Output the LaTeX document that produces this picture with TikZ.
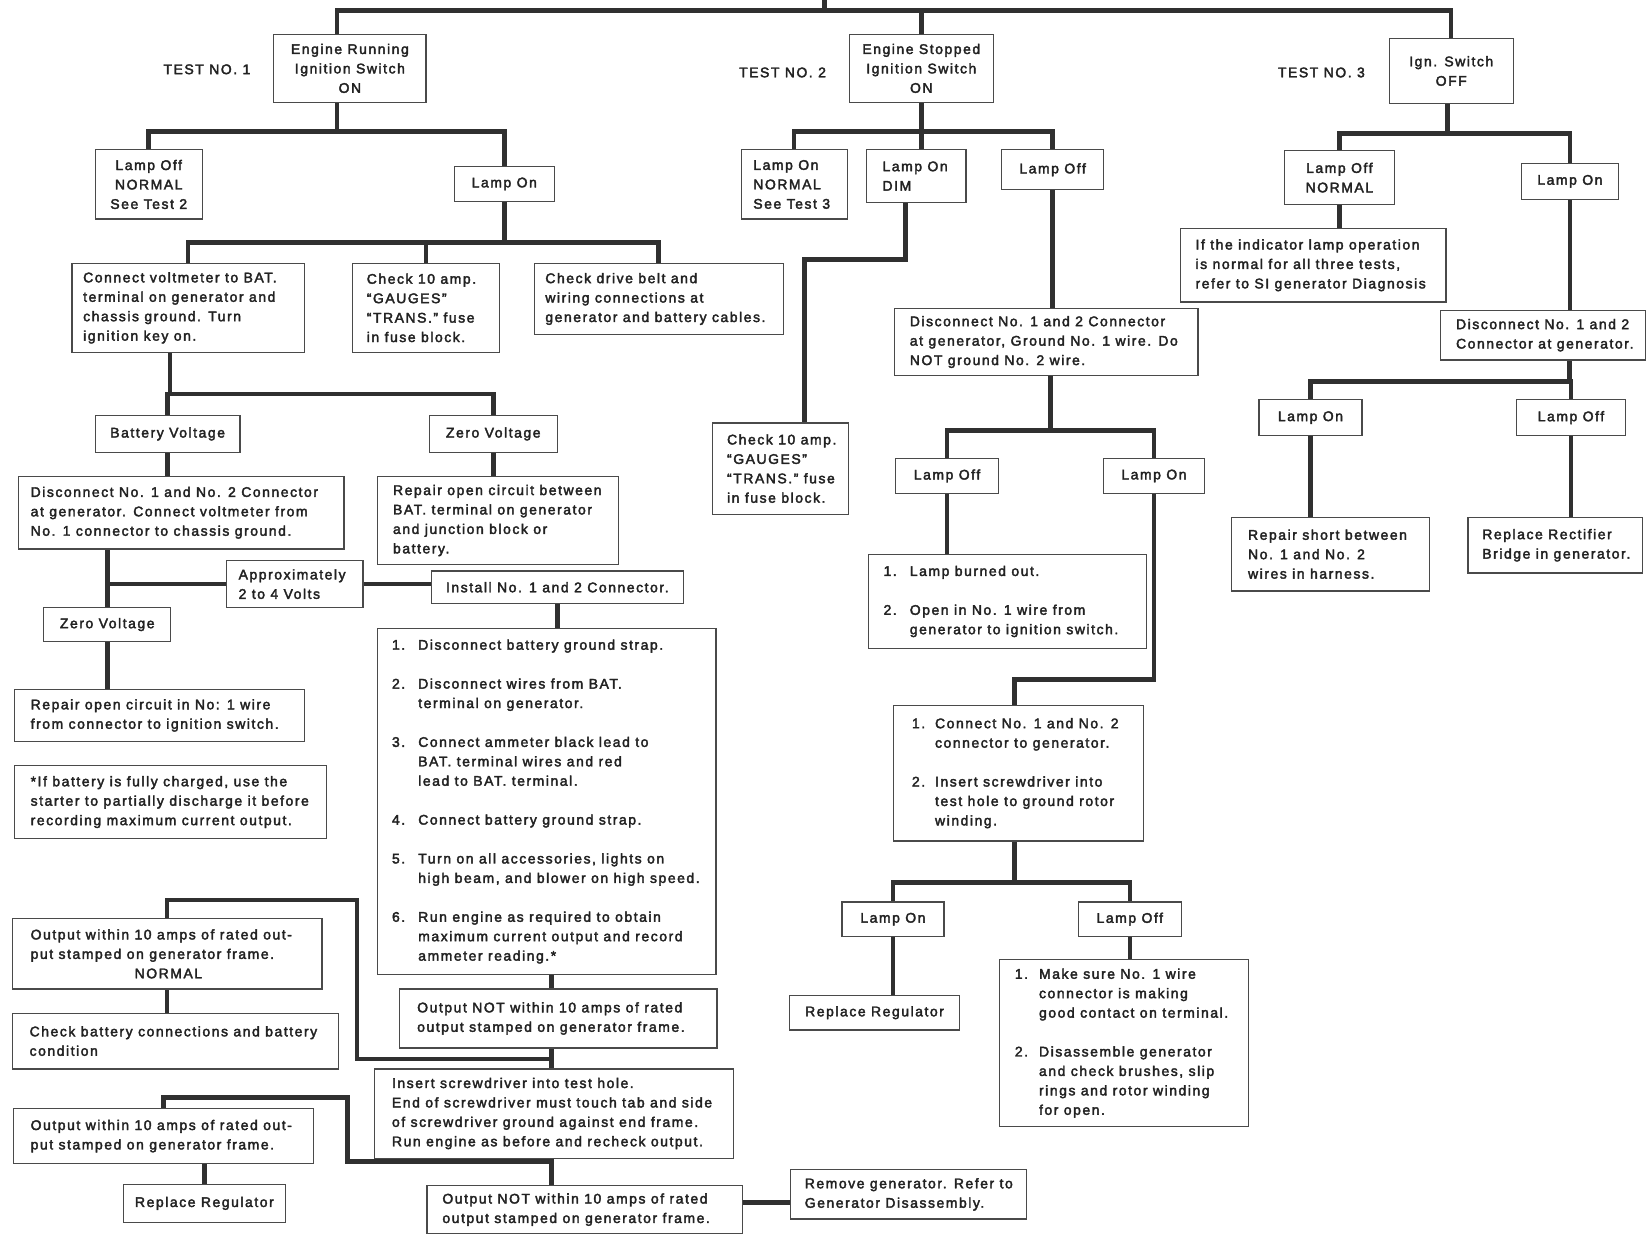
\documentclass[tikz,border=0pt]{standalone}
\usepackage{fontspec}
\setmainfont{Liberation Sans}[LetterSpace=11,FakeBold=2.6]
\pgfdeclarelayer{back}
\pgfdeclarelayer{bg}
\pgfsetlayers{back,bg,main}
\definecolor{ink}{HTML}{222222}
\definecolor{wire}{HTML}{303030}
\definecolor{edgec}{HTML}{4A4A4A}
\newcommand\fs{\fontsize{13.3}{18.5}\selectfont}
\newcommand\numi[2]{\makebox[#1pt][l]{#2}}
\newcommand\ind[1]{\hspace*{#1pt}}
\tikzset{
 box/.style={draw=edgec, line width=1.2pt, fill=white, inner sep=0pt, font=\fs, text=ink, align=center},
 txt/.style={inner sep=0pt, font=\fs, text=ink, align=left},
 conn/.style={draw=wire, line width=4.3pt, line cap=rect},
}
\newcommand\bx[6]{\node[box, minimum width={#4-#2}, minimum height={#5-#3}, anchor=north west] (#1) at (#2,#3) {#6};}
\newcommand\lbx[7]{\node[box, minimum width={#4-#2}, minimum height={#5-#3}, anchor=north west] (#1) at (#2,#3) {};
 \node[txt, anchor=west] (#1t) at ([xshift=#6pt]#1.west) {#7};}
\begin{document}
\begin{tikzpicture}[x=1pt,y=-1pt]
\useasboundingbox (0,0) rectangle (1568,1176);
\begin{pgfonlayer}{back}
\fill[white] (0,0) rectangle (1568,1176);
\end{pgfonlayer}
% ---------- labels
\node[txt] (l1) at (197,66) {TEST NO. 1};
\node[txt] (l2) at (745,69) {TEST NO. 2};
\node[txt] (l3) at (1258,69) {TEST NO. 3};
% ---------- tests
\bx{t1}{260}{32}{405}{97}{Engine Running\\Ignition Switch\\ON}
\bx{t2}{808}{32}{945}{97}{Engine Stopped\\Ignition Switch\\ON}
\bx{t3}{1322}{36}{1440}{98}{Ign. Switch\\OFF}
% ---------- test 1
\bx{a1}{90}{142}{192}{208}{Lamp Off\\NORMAL\\See Test 2}
\bx{a2}{432}{158}{527}{191}{Lamp On}
\lbx{b1}{68}{250}{289}{335}{11}{Connect voltmeter to BAT.\\terminal on generator and\\chassis ground. Turn\\ignition key on.}
\lbx{b2}{335}{250}{475}{335}{14}{Check 10 amp.\\“GAUGES”\\“TRANS.” fuse\\in fuse block.}
\lbx{b3}{508}{250}{745}{318}{11}{Check drive belt and\\wiring connections at\\generator and battery cables.}
\bx{c1}{90}{395}{228}{430}{Battery Voltage}
\bx{c2}{408}{395}{530}{430}{Zero Voltage}
\lbx{d1}{17}{453}{327}{522}{12}{Disconnect No. 1 and No. 2 Connector\\at generator. Connect voltmeter from\\No. 1 connector to chassis ground.}
\lbx{d2}{359}{453}{588}{537}{15}{Repair open circuit between\\BAT. terminal on generator\\and junction block or\\battery.}
\lbx{ap}{215}{533}{345}{578}{12}{Approximately\\2 to 4 Volts}
\bx{in}{410}{543}{650}{574}{Install No. 1 and 2 Connector.}
\bx{e1}{41}{578}{162}{610}{Zero Voltage}
\lbx{e2}{13}{656}{289}{705}{16}{Repair open circuit in No: 1 wire\\from connector to ignition switch.}
\lbx{note}{13}{728}{310}{798}{16}{*If battery is fully charged, use the\\starter to partially discharge it before\\recording maximum current output.}
\lbx{li}{359}{598}{681}{927}{14}{\numi{25}{1.}Disconnect battery ground strap.\\[18.5pt]
\numi{25}{2.}Disconnect wires from BAT.\\\ind{25}terminal on generator.\\[18.5pt]
\numi{25}{3.}Connect ammeter black lead to\\\ind{25}BAT. terminal wires and red\\\ind{25}lead to BAT. terminal.\\[18.5pt]
\numi{25}{4.}Connect battery ground strap.\\[18.5pt]
\numi{25}{5.}Turn on all accessories, lights on\\\ind{25}high beam, and blower on high speed.\\[18.5pt]
\numi{25}{6.}Run engine as required to obtain\\\ind{25}maximum current output and record\\\ind{25}ammeter reading.*}
\lbx{o1}{380}{941}{682}{997}{17}{Output NOT within 10 amps of rated\\output stamped on generator frame.}
\lbx{n1}{11}{874}{306}{941}{18}{Output within 10 amps of rated out-\\put stamped on generator frame.\\\ind{99}NORMAL}
\lbx{n2}{11}{964}{322}{1017}{17}{Check battery connections and battery\\condition}
\lbx{ins}{356}{1017}{698}{1102}{17}{Insert screwdriver into test hole.\\End of screwdriver must touch tab and side\\of screwdriver ground against end frame.\\Run engine as before and recheck output.}
\lbx{p1}{12}{1055}{298}{1107}{17}{Output within 10 amps of rated out-\\put stamped on generator frame.}
\bx{p2}{117}{1127}{271}{1163}{Replace Regulator}
\lbx{o2}{406}{1128}{706}{1174}{15}{Output NOT within 10 amps of rated\\output stamped on generator frame.}
\lbx{rg}{752}{1113}{977}{1160}{14}{Remove generator. Refer to\\Generator Disassembly.}
% ---------- test 2
\lbx{f1}{705}{142}{806}{208}{12}{Lamp On\\NORMAL\\See Test 3}
\lbx{f2}{824}{142}{919}{192}{16}{Lamp On\\DIM}
\bx{f3}{953}{142}{1050}{180}{Lamp Off}
\lbx{g1}{678}{402}{807}{489}{14}{Check 10 amp.\\“GAUGES”\\“TRANS.” fuse\\in fuse block.}
\lbx{g2}{851}{293}{1140}{357}{15}{Disconnect No. 1 and 2 Connector\\at generator, Ground No. 1 wire. Do\\NOT ground No. 2 wire.}
\bx{h1}{852}{436}{950}{469}{Lamp Off}
\bx{h2}{1050}{436}{1146}{469}{Lamp On}
\lbx{h3}{826}{527}{1091}{617}{15}{\numi{25}{1.}Lamp burned out.\\[18.5pt]
\numi{25}{2.}Open in No. 1 wire from\\\ind{25}generator to ignition switch.}
\lbx{h4}{850}{671}{1088}{800}{18}{\numi{22}{1.}Connect No. 1 and No. 2\\\ind{22}connector to generator.\\[18.5pt]
\numi{22}{2.}Insert screwdriver into\\\ind{22}test hole to ground rotor\\\ind{22}winding.}
\bx{i1}{801}{858}{898}{891}{Lamp On}
\bx{i2}{1026}{858}{1124}{891}{Lamp Off}
\bx{i3}{751}{947}{913}{980}{Replace Regulator}
\lbx{i4}{951}{913}{1188}{1072}{15}{\numi{23}{1.}Make sure No. 1 wire\\\ind{23}connector is making\\\ind{23}good contact on terminal.\\[18.5pt]
\numi{23}{2.}Disassemble generator\\\ind{23}and check brushes, slip\\\ind{23}rings and rotor winding\\\ind{23}for open.}
% ---------- test 3
\bx{q1}{1222}{143}{1327}{194}{Lamp Off\\NORMAL}
\bx{q2}{1448}{155}{1540}{189}{Lamp On}
\lbx{q3}{1123}{217}{1376}{287}{15}{If the indicator lamp operation\\is normal for all three tests,\\refer to SI generator Diagnosis}
\lbx{q4}{1371}{295}{1566}{342}{15}{Disconnect No. 1 and 2\\Connector at generator.}
\bx{r1}{1198}{380}{1296}{414}{Lamp On}
\bx{r2}{1443}{380}{1547}{414}{Lamp Off}
\lbx{r3}{1172}{492}{1360}{562}{16}{Repair short between\\No. 1 and No. 2\\wires in harness.}
\lbx{r4}{1397}{492}{1563}{545}{14}{Replace Rectifier\\Bridge in generator.}
% ---------- junctions
\coordinate (top) at (785,0);
\coordinate (j0) at (785,10);
\coordinate (j1) at (321,125);
\coordinate (j2) at (479,231);
\coordinate (j3) at (162,375);
\coordinate (k1) at (525,1008);
\coordinate (k2) at (525,1106);
\coordinate (k3) at (706,1145);
\coordinate (m1) at (340,857);
\coordinate (m2) at (331,1045);
\coordinate (j6) at (876,125);
\coordinate (m5) at (862,200);
\coordinate (m3) at (766,247);
\coordinate (j7) at (1000,410);
\coordinate (m4) at (966,647);
\coordinate (j8) at (966,840);
\coordinate (j9) at (1378,127);
\coordinate (j10) at (1494,363);
\begin{pgfonlayer}{bg}
\draw[conn] (top) -- (j0);
\draw[conn] (t1.north -| j1) |- (t3.north |- j0) -- (t3.north);
\draw[conn] (t2.north) -- (t2.north |- j0);
% test 1
\draw[conn] (t1.south -| j1) -- (j1);
\draw[conn] (a1.north) |- (a2.north |- j1) -- (a2.north);
\draw[conn] (a2.south) -- (a2.south |- j2);
\draw[conn] (b1.north) |- (b3.north |- j2) -- (b3.north);
\draw[conn] (b2.north) -- (b2.north |- j2);
\draw[conn] (b1.south -| j3) -- (j3);
\draw[conn] (c1.north) |- (c2.north |- j3) -- (c2.north);
\draw[conn] (c1.south) -- (c1.south |- d1.north);
\draw[conn] (c2.south) -- (c2.south |- d2.north);
\draw[conn] (d1.south -| e1.north) -- (e1.north);
\draw[conn] (e1.north |- ap.west) -- (ap.west);
\draw[conn] (ap.east) -- (ap.east -| in.west);
\draw[conn] (e1.south) -- (e1.south |- e2.north);
\draw[conn] (in.south) -- (in.south |- li.north);
\draw[conn] (li.south -| k1) -- (o1.north -| k1);
\draw[conn] (o1.south -| k1) -- (ins.north -| k1);
\draw[conn] (n1.north) |- (m1) |- (k1);
\draw[conn] (n1.south) -- (n1.south |- n2.north);
\draw[conn] (ins.south -| k2) -- (o2.north -| k2);
\draw[conn] (p1.north) |- (m2) |- (k2);
\draw[conn] (p2.north) -- (p2.north |- p1.south);
\draw[conn] (o2.east |- k3) -- (rg.west |- k3);
% test 2
\draw[conn] (t2.south) -- (t2.south |- f2.north);
\draw[conn] (f1.north) |- (f3.north |- j6) -- (f3.north);
\draw[conn] (f2.south -| m5) |- (m3) -- (m3 |- g1.north);
\draw[conn] (f3.south) -- (f3.south |- g2.north);
\draw[conn] (g2.south -| j7) -- (j7);
\draw[conn] (h1.north) |- (h2.north |- j7) -- (h2.north);
\draw[conn] (h1.south) -- (h1.south |- h3.north);
\draw[conn] (h2.south) |- (m4) -- (m4 |- h4.north);
\draw[conn] (h4.south -| m4) -- (j8);
\draw[conn] (i1.north) |- (i2.north |- j8) -- (i2.north);
\draw[conn] (i1.south) -- (i1.south |- i3.north);
\draw[conn] (i2.south) -- (i2.south |- i4.north);
% test 3
\draw[conn] (t3.south -| j9) -- (j9);
\draw[conn] (q1.north) |- (q2.north |- j9) -- (q2.north);
\draw[conn] (q1.south) -- (q1.south |- q3.north);
\draw[conn] (q2.south) -- (q2.south |- q4.north);
\draw[conn] (q4.south -| j10) -- (j10);
\draw[conn] (r1.north) |- (r2.north |- j10) -- (r2.north);
\draw[conn] (r1.south) -- (r1.south |- r3.north);
\draw[conn] (r2.south) -- (r2.south |- r4.north);
\end{pgfonlayer}
\end{tikzpicture}
\end{document}
